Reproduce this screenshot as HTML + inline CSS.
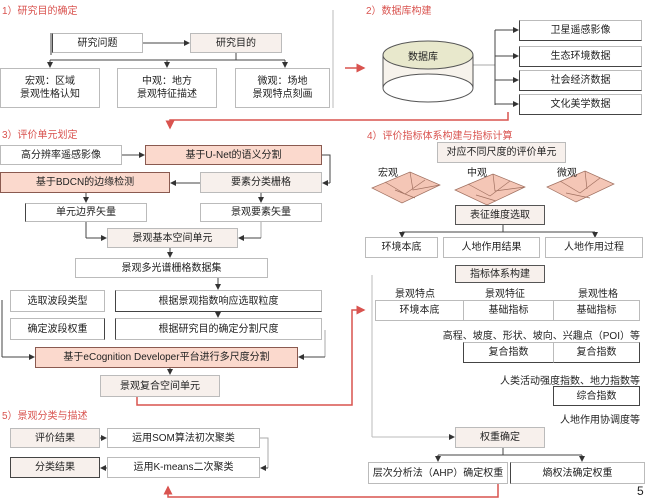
<!DOCTYPE html>
<html><head><meta charset="utf-8"><style>
body{margin:0;width:650px;height:499px;background:#fff;position:relative;overflow:hidden;font-family:"Liberation Sans","Noto Sans CJK SC",sans-serif;font-size:10px;color:#222}
.b{position:absolute;box-sizing:border-box;border:1px solid #bbb;display:flex;align-items:center;justify-content:center;text-align:center;line-height:13px;background:#fff}
.f{background:#f7f0ec}
.p{background:#fbd9cd;border-color:#8a5a50}
.d{border-left:1px solid #444;border-bottom:1px solid #444}
.t{position:absolute;color:#d9534f;font-size:10px;white-space:nowrap}
.l{position:absolute;white-space:nowrap}
svg{position:absolute;left:0;top:0}
</style></head><body>
<svg width="650" height="499">
<defs>
<marker id="a" markerWidth="6" markerHeight="6" refX="5" refY="3" orient="auto"><path d="M0,0L6,3L0,6z" fill="#333"/></marker>
<marker id="r" markerWidth="6" markerHeight="6" refX="5" refY="3" orient="auto"><path d="M0,0L6,3L0,6z" fill="#d9534f"/></marker>
</defs>
<g stroke="#444" fill="none" stroke-width="1">
<line x1="143" y1="43" x2="189" y2="43" marker-end="url(#a)"/>
<path d="M51 33V55"/><path d="M236 53V60"/><path d="M50 60H285"/>
<line x1="50" y1="60" x2="50" y2="67" marker-end="url(#a)"/>
<line x1="167" y1="60" x2="167" y2="67" marker-end="url(#a)"/>
<line x1="285" y1="60" x2="285" y2="67" marker-end="url(#a)"/>
<path d="M473 65H495" stroke="#aaa"/><path d="M495 30V105"/>
<line x1="495" y1="30" x2="518" y2="30" marker-end="url(#a)"/>
<line x1="495" y1="56" x2="518" y2="56" marker-end="url(#a)"/>
<line x1="495" y1="80" x2="518" y2="80" marker-end="url(#a)"/>
<line x1="495" y1="104" x2="518" y2="104" marker-end="url(#a)"/>
<path d="M333 10V108" stroke="#bbb"/>
<line x1="122" y1="155" x2="144" y2="155" marker-end="url(#a)"/>
<path d="M322 155H330V183"/><line x1="330" y1="183" x2="323" y2="183" marker-end="url(#a)"/>
<line x1="200" y1="183" x2="171" y2="183" marker-end="url(#a)"/>
<line x1="86" y1="193" x2="86" y2="202" marker-end="url(#a)"/>
<line x1="261" y1="193" x2="261" y2="202" marker-end="url(#a)"/>
<path d="M86 222V238"/><line x1="86" y1="238" x2="106" y2="238" marker-end="url(#a)"/>
<path d="M261 222V238" stroke="#aaa"/><line x1="261" y1="238" x2="239" y2="238" marker-end="url(#a)"/>
<line x1="170" y1="248" x2="170" y2="257" marker-end="url(#a)"/>
<line x1="218" y1="278" x2="218" y2="289" marker-end="url(#a)"/>
<line x1="218" y1="312" x2="218" y2="317" marker-end="url(#a)"/>
<path d="M2 300V357"/><line x1="2" y1="357" x2="34" y2="357" marker-end="url(#a)"/>
<path d="M325 330V357" stroke="#aaa"/><line x1="325" y1="357" x2="299" y2="357" marker-end="url(#a)"/>
<line x1="170" y1="368" x2="170" y2="374" marker-end="url(#a)"/>
<path d="M503 225V232"/><path d="M402 232H595"/>
<line x1="402" y1="232" x2="402" y2="237" marker-end="url(#a)"/>
<line x1="595" y1="232" x2="595" y2="237" marker-end="url(#a)"/>
<path d="M372 275V437" stroke="#bbb"/><line x1="372" y1="437" x2="454" y2="437" stroke="#bbb" marker-end="url(#a)"/>
<path d="M503 448V455"/><path d="M438 455H582"/>
<line x1="438" y1="455" x2="438" y2="461" marker-end="url(#a)"/>
<line x1="582" y1="455" x2="582" y2="461" marker-end="url(#a)"/>
<line x1="100" y1="438" x2="106" y2="438" marker-end="url(#a)"/>
<path d="M260 438H268V468" stroke="#aaa"/><line x1="268" y1="468" x2="261" y2="468" marker-end="url(#a)"/>
<line x1="107" y1="468" x2="101" y2="468" marker-end="url(#a)"/>
</g>
<g stroke="#d9534f" fill="none" stroke-width="1.5">
<line x1="345" y1="68" x2="364" y2="68" marker-end="url(#r)"/>
<path d="M508 112V120H170V128" marker-end="url(#r)"/>
<path d="M137 397V405H352V310H364" marker-end="url(#r)"/>
<path d="M498 484V497H168V487" marker-end="url(#r)"/>
</g>
<g stroke="#555">
<rect x="383" y="55" width="90" height="33" fill="#f7f3ec" stroke="none"/>
<path d="M383 55V88M473 55V88" fill="none"/>
<ellipse cx="428" cy="88" rx="45" ry="14" fill="#fff"/>
<ellipse cx="428" cy="55" rx="45" ry="14" fill="#e8e8cc"/>
<g fill="#f4c6b6" stroke="#a07060" stroke-width="0.7">
<polygon points="372,188 410,172 440,185 402,203"/>
<polygon points="455,190 493,174 525,187 487,205"/>
<polygon points="547,187 585,171 614,184 576,202"/>
<path d="M385,182 L405,194 L425,180 M395,190 L415,198 M410,172 L413,190 L440,185" fill="none"/>
<path d="M468,184 L490,196 L510,181 M476,195 L496,201 M493,174 L495,191 L525,187" fill="none"/>
<path d="M560,181 L580,193 L600,178 M566,193 L590,198 M585,171 L587,189" fill="none"/>
</g>
</g>
</svg>
<div class="t" style="left:2px;top:2px">1）研究目的确定</div>
<div class="b" style="left:52px;top:33px;width:91px;height:20px;border-left:1px solid #444">研究问题</div>
<div class="b f" style="left:190px;top:33px;width:92px;height:20px">研究目的</div>
<div class="b" style="left:0;top:68px;width:100px;height:40px">宏观：区域<br>景观性格认知</div>
<div class="b" style="left:117px;top:68px;width:100px;height:40px">中观：地方<br>景观特征描述</div>
<div class="b" style="left:235px;top:68px;width:95px;height:40px">微观：场地<br>景观特点刻画</div>
<div class="t" style="left:366px;top:2px">2）数据库构建</div>
<div class="l" style="left:408px;top:48px">数据库</div>
<div class="b d" style="left:519px;top:20px;width:123px;height:21px">卫星遥感影像</div>
<div class="b d" style="left:519px;top:46px;width:123px;height:21px">生态环境数据</div>
<div class="b d" style="left:519px;top:70px;width:123px;height:21px">社会经济数据</div>
<div class="b d" style="left:519px;top:94px;width:123px;height:21px">文化美学数据</div>
<div class="t" style="left:2px;top:126px">3）评价单元划定</div>
<div class="b" style="left:0;top:145px;width:122px;height:20px">高分辨率遥感影像</div>
<div class="b p" style="left:145px;top:145px;width:177px;height:20px">基于U-Net的语义分割</div>
<div class="b p" style="left:0;top:172px;width:170px;height:21px">基于BDCN的边缘检测</div>
<div class="b f" style="left:200px;top:172px;width:122px;height:21px">要素分类栅格</div>
<div class="b" style="left:25px;top:203px;width:122px;height:19px;border-left:1px solid #444">单元边界矢量</div>
<div class="b" style="left:200px;top:203px;width:122px;height:19px">景观要素矢量</div>
<div class="b f" style="left:107px;top:228px;width:131px;height:20px">景观基本空间单元</div>
<div class="b" style="left:75px;top:258px;width:193px;height:20px">景观多光谱栅格数据集</div>
<div class="b" style="left:10px;top:290px;width:95px;height:22px">选取波段类型</div>
<div class="b" style="left:115px;top:290px;width:207px;height:22px;border-left:1px solid #444;border-bottom:1px solid #444">根据景观指数响应选取粒度</div>
<div class="b" style="left:10px;top:318px;width:95px;height:22px;border-right:1px solid #444">确定波段权重</div>
<div class="b" style="left:115px;top:318px;width:207px;height:22px;border-left:1px solid #444">根据研究目的确定分割尺度</div>
<div class="b p" style="left:35px;top:347px;width:263px;height:21px">基于eCognition Developer平台进行多尺度分割</div>
<div class="b f" style="left:100px;top:375px;width:120px;height:22px">景观复合空间单元</div>
<div class="t" style="left:367px;top:127px">4）评价指标体系构建与指标计算</div>
<div class="b f" style="left:437px;top:142px;width:129px;height:21px">对应不同尺度的评价单元</div>
<div class="l" style="left:378px;top:164px">宏观</div>
<div class="l" style="left:467px;top:164px">中观</div>
<div class="l" style="left:557px;top:164px">微观</div>
<div class="b f" style="left:455px;top:205px;width:90px;height:20px;border-color:#555">表征维度选取</div>
<div class="b" style="left:365px;top:237px;width:73px;height:21px">环境本底</div>
<div class="b" style="left:443px;top:237px;width:97px;height:21px">人地作用结果</div>
<div class="b" style="left:545px;top:237px;width:98px;height:21px">人地作用过程</div>
<div class="b f" style="left:455px;top:265px;width:90px;height:18px;border-color:#555">指标体系构建</div>
<div class="l" style="left:395px;top:285px">景观特点</div>
<div class="l" style="left:485px;top:285px">景观特征</div>
<div class="l" style="left:578px;top:285px">景观性格</div>
<div class="b" style="left:375px;top:300px;width:89px;height:21px">环境本底</div>
<div class="b" style="left:463px;top:300px;width:91px;height:21px">基础指标</div>
<div class="b" style="left:553px;top:300px;width:87px;height:21px">基础指标</div>
<div class="l" style="right:10px;top:327px">高程、坡度、形状、坡向、兴趣点（POI）等</div>
<div class="b" style="left:463px;top:342px;width:91px;height:21px;border-left:1px solid #444;border-bottom:1px solid #444">复合指数</div>
<div class="b" style="left:553px;top:342px;width:87px;height:21px;border-right:1px solid #444;border-bottom:1px solid #444">复合指数</div>
<div class="l" style="right:10px;top:372px">人类活动强度指数、地力指数等</div>
<div class="b" style="left:553px;top:386px;width:87px;height:20px;border-color:#444">综合指数</div>
<div class="l" style="right:10px;top:411px">人地作用协调度等</div>
<div class="b f" style="left:455px;top:427px;width:90px;height:21px">权重确定</div>
<div class="b" style="left:368px;top:462px;width:140px;height:22px">层次分析法（AHP）确定权重</div>
<div class="b" style="left:510px;top:462px;width:135px;height:22px;border-left:1px solid #444">熵权法确定权重</div>
<div class="t" style="left:2px;top:407px">5）景观分类与描述</div>
<div class="b f" style="left:10px;top:428px;width:90px;height:20px">评价结果</div>
<div class="b" style="left:107px;top:428px;width:153px;height:20px">运用SOM算法初次聚类</div>
<div class="b f" style="left:10px;top:457px;width:90px;height:21px;border-color:#444">分类结果</div>
<div class="b" style="left:107px;top:457px;width:153px;height:21px">运用K-means二次聚类</div>
<div class="l" style="left:637px;top:484px;font-size:12px">5</div>
</body></html>
